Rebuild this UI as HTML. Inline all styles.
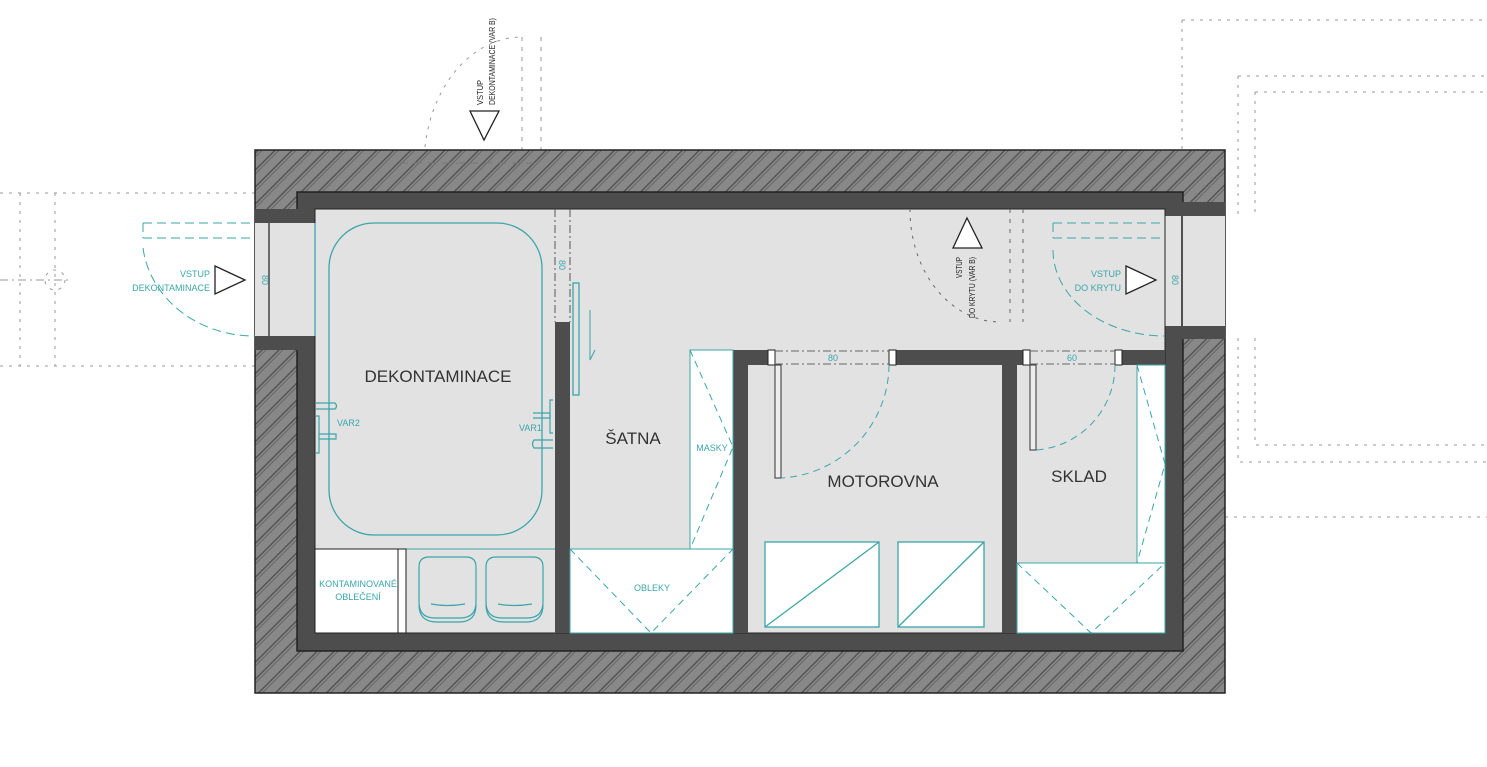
<!DOCTYPE html>
<html><head><meta charset="utf-8"><style>
html,body{margin:0;padding:0;background:#fff;}
svg{display:block;}
.lbl{font-family:"Liberation Sans",sans-serif;fill:#333;font-size:17px;}
.sm{font-family:"Liberation Sans",sans-serif;fill:#3aa6aa;font-size:9px;}
.bk{font-family:"Liberation Sans",sans-serif;fill:#222;font-size:8.5px;}
</style></head><body>
<svg width="1487" height="767" viewBox="0 0 1487 767" xmlns="http://www.w3.org/2000/svg">
<defs>
<pattern id="h" patternUnits="userSpaceOnUse" width="12" height="12" patternTransform="rotate(45)">
<rect width="12" height="12" fill="#888"/>
<rect x="0" y="0" width="1.5" height="12" fill="#555"/>
<rect x="3" y="0" width="1" height="12" fill="#666"/>
</pattern>
</defs>
<g fill="none" stroke="#999" stroke-width="1" stroke-dasharray="3,6">
<path d="M0 193H255M0 366H255M20 193V366M55 193V366"/>
<path d="M0 280H70" stroke-dasharray="8,4,2,4"/>
<circle cx="55" cy="280" r="10"/>
<path d="M1182 20H1487M1182 20V150M1238 76H1487M1255 92H1487M1238 76V216M1255 92V216"/>
<path d="M1238 338V462H1487M1255 338V445H1487M1225 517H1487"/>
<path d="M424 165A98 128 0 0 1 522 37"/>
<path d="M522 37V165M541 37V165" stroke-dasharray="4,6"/>
</g>
<rect x="255" y="150" width="970" height="543" fill="url(#h)" stroke="#222" stroke-width="1.5"/>
<rect x="297" y="192" width="886" height="459" fill="#4d4d4d" stroke="#222" stroke-width="1.5"/>
<rect x="255" y="209" width="60" height="141" fill="#4d4d4d"/>
<rect x="255" y="223" width="60" height="113" fill="#e2e2e2"/>
<line x1="269" y1="223" x2="269" y2="336" stroke="#444" stroke-width="1.5"/>
<rect x="1165" y="202" width="60" height="137" fill="#4d4d4d"/>
<rect x="1165" y="216" width="60" height="110" fill="#e2e2e2"/>
<line x1="1182" y1="216" x2="1182" y2="326" stroke="#222" stroke-width="1.5"/>
<rect x="315" y="209" width="850" height="424" fill="#e2e2e2" stroke="#222" stroke-width="1"/>
<text x="262" y="280" class="sm" transform="rotate(90 262 280)" text-anchor="middle">80</text>
<text x="1172" y="280" class="sm" transform="rotate(90 1172 280)" text-anchor="middle">80</text>
<rect x="555" y="322" width="15" height="311" fill="#4d4d4d"/>
<g stroke="#555" stroke-dasharray="8,3,2,3" fill="none"><path d="M555 209V322M570 209V322"/></g>
<text x="559" y="265" class="sm" transform="rotate(90 559 265)" text-anchor="middle">80</text>
<rect x="733" y="350" width="15" height="283" fill="#4d4d4d"/>
<rect x="733" y="350" width="432" height="15" fill="#4d4d4d"/>
<rect x="1002" y="350" width="15" height="283" fill="#4d4d4d"/>
<rect x="768" y="350" width="128" height="15" fill="#e2e2e2"/>
<rect x="768" y="350" width="7" height="15" fill="#fff" stroke="#222"/>
<rect x="889" y="350" width="7" height="15" fill="#fff" stroke="#222"/>
<rect x="1023" y="350" width="99" height="15" fill="#e2e2e2"/>
<rect x="1023" y="350" width="7" height="15" fill="#fff" stroke="#222"/>
<rect x="1115" y="350" width="7" height="15" fill="#fff" stroke="#222"/>
<g stroke="#666" stroke-dasharray="8,3,2,3"><path d="M775 351H889M775 364H889M1030 351H1115M1030 364H1115"/></g>
<text x="833" y="361" class="sm" text-anchor="middle">80</text>
<text x="1072" y="361" class="sm" text-anchor="middle">60</text>
<rect x="775" y="365" width="6" height="113" fill="#eee" stroke="#333"/>
<path d="M889 365A114 114 0 0 1 781 478" fill="none" stroke="#3aa6aa" stroke-dasharray="7,5"/>
<rect x="1030" y="365" width="6" height="85" fill="#eee" stroke="#333"/>
<path d="M1115 365A85 85 0 0 1 1036 450" fill="none" stroke="#3aa6aa" stroke-dasharray="7,5"/>
<g fill="#fff" stroke="#3aa6aa" stroke-width="1.3">
<rect x="765" y="542" width="114" height="85"/><line x1="765" y1="627" x2="879" y2="542"/>
<rect x="898" y="542" width="86" height="85"/><line x1="898" y1="627" x2="984" y2="542"/>
</g>
<rect x="1137" y="365" width="28" height="198" fill="#fff" stroke="#3aa6aa"/>
<rect x="1017" y="563" width="148" height="70" fill="#fff" stroke="#3aa6aa"/>
<g fill="none" stroke="#3aa6aa" stroke-dasharray="7,5">
<path d="M1137 365L1165 464L1137 563"/>
<path d="M1017 563L1091 633L1165 563"/>
</g>
<rect x="690" y="350" width="43" height="199" fill="#fff" stroke="#3aa6aa"/>
<rect x="570" y="549" width="163" height="84" fill="#fff" stroke="#3aa6aa"/>
<g fill="none" stroke="#3aa6aa" stroke-dasharray="7,5">
<path d="M690 350L733 447L690 549"/>
<path d="M570 549L651 633L733 549"/>
</g>
<text x="712" y="451" class="sm" text-anchor="middle">MASKY</text>
<text x="652" y="591" class="sm" text-anchor="middle">OBLEKY</text>
<rect x="573" y="283" width="6" height="112" fill="none" stroke="#3aa6aa" stroke-width="1.3"/>
<path d="M590 310V360L595 350" fill="none" stroke="#3aa6aa"/>
<line x1="315" y1="223" x2="315" y2="336" stroke="#3aa6aa" stroke-width="1.3"/>
<rect x="329" y="223" width="213" height="312" rx="45" fill="none" stroke="#3aa6aa" stroke-width="1.3"/>
<line x1="315" y1="549" x2="555" y2="549" stroke="#3aa6aa"/>
<rect x="315" y="549" width="83" height="84" fill="#fff" stroke="#222"/>
<rect x="398" y="549" width="8" height="84" fill="#fff" stroke="#222"/>
<text x="358" y="587" class="sm" text-anchor="middle">KONTAMINOVANÉ</text>
<text x="358" y="600" class="sm" text-anchor="middle">OBLEČENÍ</text>
<g fill="none" stroke="#3aa6aa" stroke-width="1.2">
<path d="M429 557H466Q476 557 476 567V602Q476 618 460 618H435Q419 618 419 602V567Q419 557 429 557Z"/>
<path d="M419 605Q419 622 437 622H459Q476 622 476 605"/>
<path d="M431 604Q447 607 465 604"/>
<path d="M496 557H533Q543 557 543 567V602Q543 618 527 618H502Q486 618 486 602V567Q486 557 496 557Z"/>
<path d="M486 605Q486 622 504 622H526Q543 622 543 605"/>
<path d="M498 604Q514 607 532 604"/>
<path d="M316 403H335Q338 406 335 409H316"/>
<path d="M316 416H319V453H316"/>
<path d="M319 434H336V439H319"/>
<path d="M553 400H550V433H553"/>
<path d="M533 413H550V418H533"/>
<path d="M553 440H534Q531 444 534 448H553"/>
</g>
<text x="337" y="426" class="sm">VAR2</text>
<text x="519" y="431" class="sm">VAR1</text>
<g fill="none" stroke="#3aa6aa" stroke-dasharray="9,5">
<path d="M143 223H255M143 238H255M143 223V238"/>
<path d="M143 248A112 100 0 0 0 255 336"/>
<path d="M1053 223H1165M1053 238H1165M1053 223V238"/>
<path d="M1053 250A112 86 0 0 0 1165 336"/>
</g>
<polygon points="215,266 245,280 215,294" fill="#fff" stroke="#222" stroke-width="1.3"/>
<text x="210" y="277" class="sm" text-anchor="end">VSTUP</text>
<text x="210" y="291" class="sm" text-anchor="end">DEKONTAMINACE</text>
<polygon points="1126,266 1156,280 1126,294" fill="#fff" stroke="#222" stroke-width="1.3"/>
<text x="1121" y="277" class="sm" text-anchor="end">VSTUP</text>
<text x="1121" y="291" class="sm" text-anchor="end">DO KRYTU</text>
<g fill="none" stroke="#666" stroke-dasharray="3,6">
<path d="M910 209A90 112 0 0 0 1000 322"/>
<path d="M1010 209V322M1023 209V322" stroke-dasharray="4,6"/>
</g>
<polygon points="953,248 982,248 967,218" fill="#fff" stroke="#222" stroke-width="1.3"/>
<text x="962" y="278" class="bk" transform="rotate(-90 962 278)" textLength="21" lengthAdjust="spacingAndGlyphs">VSTUP</text>
<text x="975" y="318" class="bk" transform="rotate(-90 975 318)" textLength="61" lengthAdjust="spacingAndGlyphs">DO KRYTU (VAR B)</text>
<polygon points="470,111 499,111 484,140" fill="#fff" stroke="#222" stroke-width="1.3"/>
<text x="483" y="105" class="bk" transform="rotate(-90 483 105)" textLength="25" lengthAdjust="spacingAndGlyphs">VSTUP</text>
<text x="495" y="105" class="bk" transform="rotate(-90 495 105)" textLength="87" lengthAdjust="spacingAndGlyphs">DEKONTAMINACE (VAR B)</text>
<path d="M400 163H540" stroke="#777" stroke-dasharray="8,6" fill="none"/>
<text x="438" y="382" class="lbl" text-anchor="middle">DEKONTAMINACE</text>
<text x="633" y="444" class="lbl" text-anchor="middle">ŠATNA</text>
<text x="883" y="487" class="lbl" text-anchor="middle">MOTOROVNA</text>
<text x="1079" y="482" class="lbl" text-anchor="middle">SKLAD</text>
</svg>
</body></html>
